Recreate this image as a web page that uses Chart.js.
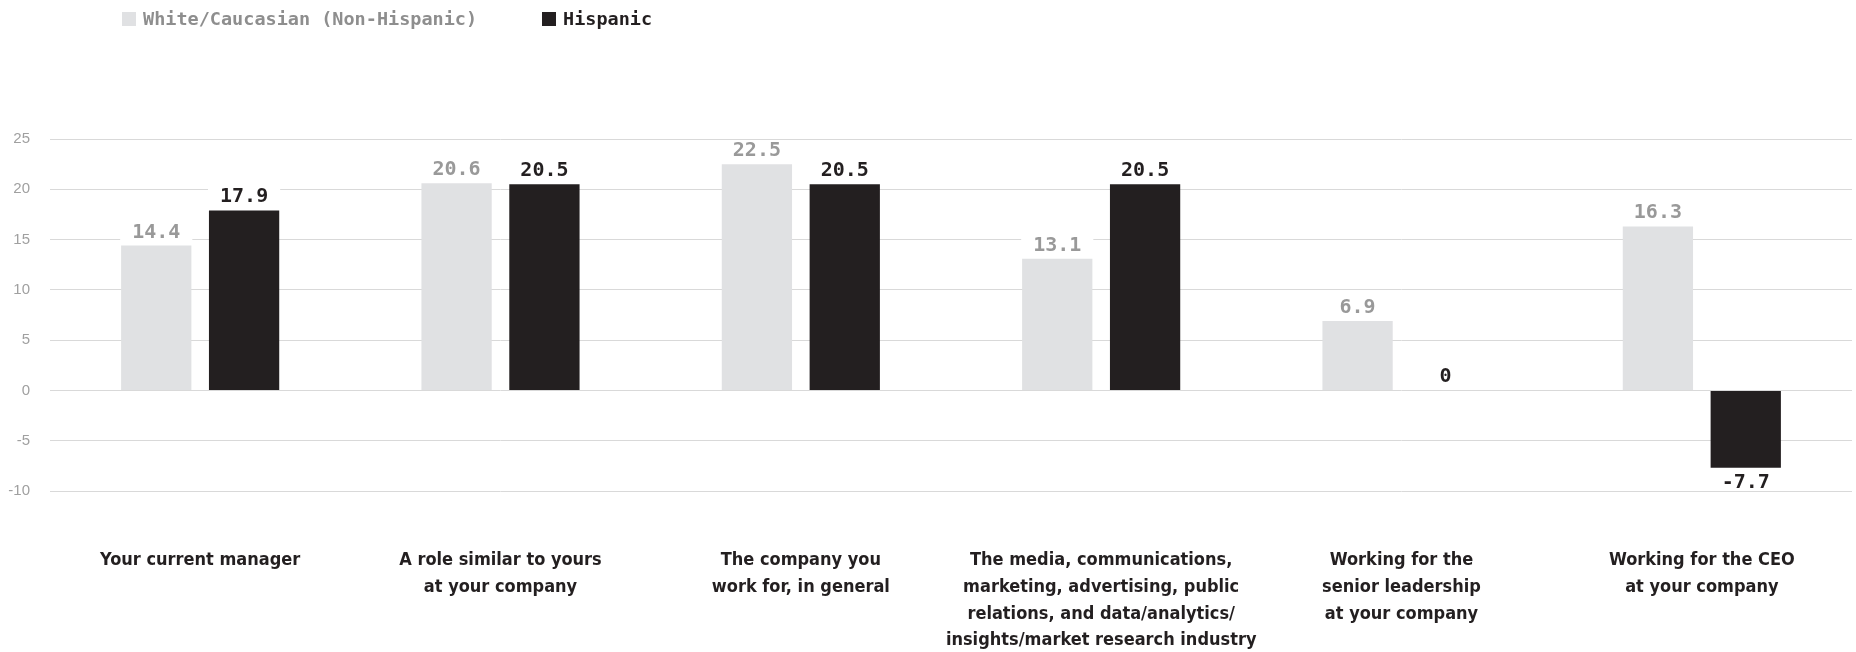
<!DOCTYPE html>
<html>
<head>
<meta charset="utf-8">
<script src="https://cdn.jsdelivr.net/npm/chart.js@4.4.1/dist/chart.umd.min.js"></script>
<style>
  html, body { margin: 0; padding: 0; background: #fff; }
  #wrap { position: relative; width: 1856px; height: 652px; }
</style>
</head>
<body>
<div id="wrap"><canvas id="chart"></canvas></div>
<script>
// ── Data ──────────────────────────────────────────────
const CATEGORIES = [
  ['Your current manager'],
  ['A role similar to yours', 'at your company'],
  ['The company you', 'work for, in general'],
  ['The media, communications,', 'marketing, advertising, public', 'relations, and data/analytics/', 'insights/market research industry'],
  ['Working for the', 'senior leadership', 'at your company'],
  ['Working for the CEO', 'at your company']
];
const WHITE_VALUES = [14.4, 20.6, 22.5, 13.1, 6.9, 16.3];
const HISPANIC_VALUES = [17.9, 20.5, 20.5, 20.5, 0, -7.7];
const Y_TICKS = [-10, -5, 0, 5, 10, 15, 20, 25];

const LIGHT = '#e0e1e3';
const DARK = '#231f20';
const MONO = "'DejaVu Sans Mono', monospace";
const NARROW = "'Liberation Sans Narrow', 'Arial Narrow', 'DejaVu Sans Condensed', sans-serif";

// ── Legend drawn in the top band ──────────────────────
const topLegend = {
  id: 'topLegend',
  afterDraw(chart) {
    const ctx = chart.ctx;
    const items = [
      { x: 122, text: chart.data.datasets[0].label, box: LIGHT, color: '#8e8e8e' },
      { x: 542, text: chart.data.datasets[1].label, box: DARK, color: DARK }
    ];
    ctx.save();
    ctx.font = `bold 18.5px ${MONO}`;
    ctx.textBaseline = 'alphabetic';
    ctx.textAlign = 'left';
    items.forEach(it => {
      ctx.fillStyle = it.box;
      ctx.fillRect(it.x, 12, 14, 14);
      ctx.fillStyle = it.color;
      ctx.fillText(it.text, it.x + 21, 25);
    });
    ctx.restore();
  }
};

// ── Value labels with white backing ───────────────────
const valueLabels = {
  id: 'valueLabels',
  afterDatasetsDraw(chart) {
    const ctx = chart.ctx;
    ctx.save();
    ctx.font = `bold 20px ${MONO}`;
    ctx.textAlign = 'center';
    ctx.textBaseline = 'alphabetic';
    chart.data.datasets.forEach((ds, di) => {
      const meta = chart.getDatasetMeta(di);
      meta.data.forEach((bar, i) => {
        const v = ds.data[i];
        const text = String(v);
        const base = chart.scales.y.getPixelForValue(0);
        const y = chart.scales.y.getPixelForValue(v);
        // baseline above the bar end, or below it for negatives
        const baseline = v < 0 ? y + 20 : Math.min(y, base) - 8;
        const w = ctx.measureText(text).width + 24;
        const below = v < 0 ? 2 : 5;
        ctx.fillStyle = '#fff';
        ctx.fillRect(bar.x - w / 2, baseline - 15, w, 15 + below);
        ctx.fillStyle = ds.labelColor;
        ctx.fillText(text, bar.x, baseline);
      });
    });
    ctx.restore();
  }
};

// ── Chart ─────────────────────────────────────────────
const ctx = document.getElementById('chart').getContext('2d');
new Chart(ctx, {
  type: 'bar',
  data: {
    labels: CATEGORIES,
    datasets: [
      {
        label: 'White/Caucasian (Non-Hispanic)',
        data: WHITE_VALUES,
        backgroundColor: LIGHT,
        labelColor: '#999999',
        categoryPercentage: 0.585,
        barPercentage: 0.8
      },
      {
        label: 'Hispanic',
        data: HISPANIC_VALUES,
        backgroundColor: DARK,
        labelColor: DARK,
        categoryPercentage: 0.585,
        barPercentage: 0.8
      }
    ]
  },
  options: {
    responsive: true,
    maintainAspectRatio: false,
    animation: false,
    layout: { padding: { top: 139, right: 4, bottom: 0, left: 0 } },
    plugins: {
      legend: { display: false },
      tooltip: { enabled: false }
    },
    scales: {
      x: {
        grid: { display: false, drawTicks: false },
        border: { display: false },
        afterFit: s => { s.height = 161; },
        ticks: {
          color: DARK,
          padding: 56,
          maxRotation: 0,
          autoSkip: false,
          font: { family: NARROW, size: 18, weight: 'bold', lineHeight: '26.8px' }
        }
      },
      y: {
        min: Y_TICKS[0],
        max: Y_TICKS[Y_TICKS.length - 1],
        afterFit: s => { s.width = 50; },
        afterBuildTicks: s => { s.ticks = Y_TICKS.map(v => ({ value: v })); },
        grid: { color: '#d9d9d9', lineWidth: 1, drawTicks: false },
        border: { display: false },
        ticks: {
          color: '#a0a0a0',
          padding: 20,
          font: { family: "'Liberation Sans', Arial, sans-serif", size: 15 }
        }
      }
    }
  },
  plugins: [topLegend, valueLabels]
});
</script>
</body>
</html>
